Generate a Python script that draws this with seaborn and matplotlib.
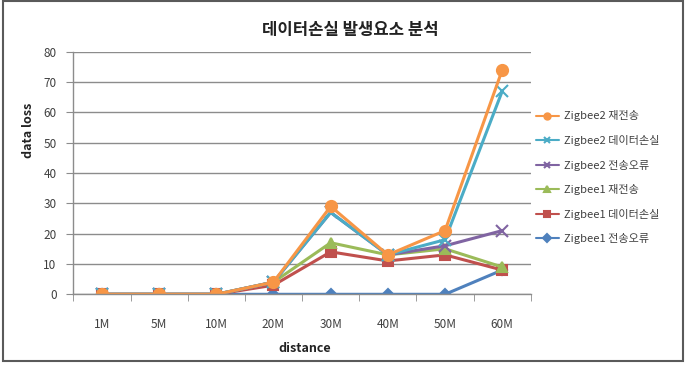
import matplotlib
matplotlib.use('Agg')
import matplotlib.pyplot as plt
import matplotlib.patches as patches
import seaborn as sns
import pandas as pd

# Data
distances = ['1M', '5M', '10M', '20M', '30M', '40M', '50M', '60M']
zb1_tx_error = [0, 0, 0, 0, 0, 0, 0, 8]
zb1_data_loss = [0, 0, 0, 3, 14, 11, 13, 8]
zb1_retx = [0, 0, 0, 4, 17, 13, 15, 9]
zb2_tx_error = [0, 0, 0, 4, 27, 13, 16, 21]
zb2_data_loss = [0, 0, 0, 4, 27, 13, 18, 67]
zb2_retx = [0, 0, 0, 4, 29, 13, 21, 74]

series_names = ['Zigbee1 전송오류', 'Zigbee1 데이터손실', 'Zigbee1 재전송',
                'Zigbee2 전송오류', 'Zigbee2 데이터손실', 'Zigbee2 재전송']
series_values = [zb1_tx_error, zb1_data_loss, zb1_retx,
                 zb2_tx_error, zb2_data_loss, zb2_retx]
colors = ['#4F81BD', '#C0504D', '#9BBB59', '#8064A2', '#4BACC6', '#F79646']
markers = ['D', 's', '^', 'x', 'x', 'o']
marker_sizes = [5, 7, 7, 8, 8, 8]

sns.set_style('white')
plt.rcParams['font.family'] = ['Noto Sans CJK KR', 'DejaVu Sans']

fig = plt.figure(figsize=(6.93, 3.66), dpi=100)
ax = fig.add_axes([0.1058, 0.1959, 0.6602, 0.6628])

for name, vals, c, m, ms in zip(series_names, series_values, colors, markers, marker_sizes):
    df = pd.DataFrame({'distance': distances, 'loss': vals})
    sns.lineplot(data=df, x='distance', y='loss', ax=ax, color=c, marker=m,
                 markersize=ms, linewidth=2.2, markeredgecolor=c,
                 markeredgewidth=1.5, label=name, sort=False)

ax.set_xlim(-0.5, len(distances) - 0.5)
ax.set_ylim(0, 80)
ax.set_yticks(range(0, 81, 10))
ax.yaxis.grid(True, color='#8c8c8c', linewidth=1)
ax.set_axisbelow(True)

# Excel style ticks: between categories on x, outward on y
ax.set_xticks(range(len(distances)))
ax.set_xticklabels(distances)
ax.set_xticks([i - 0.5 for i in range(len(distances) + 1)], minor=True)
ax.tick_params(axis='x', which='major', length=0, pad=17, labelsize=8.5, labelcolor='#404040')
ax.tick_params(axis='x', which='minor', length=5, color='#8c8c8c', direction='out', bottom=True)
ax.tick_params(axis='y', length=5, color='#8c8c8c', direction='out', left=True,
               labelsize=8.5, labelcolor='#404040', pad=7)

for side in ['top', 'right']:
    ax.spines[side].set_visible(False)
for side in ['left', 'bottom']:
    ax.spines[side].set_color('#8c8c8c')
    ax.spines[side].set_linewidth(1)

fig.text(350 / 693, 1 - 30 / 366, '데이터손실 발생요소 분석', fontsize=12, fontweight='bold',
         color='#222222', ha='center', va='center')
ax.set_xlabel('distance', fontsize=9, fontweight='bold', color='#222222')
ax.set_ylabel('data loss', fontsize=9, fontweight='bold', color='#222222')
ax.xaxis.set_label_coords(0.506, -0.195)
ax.yaxis.set_label_coords(-0.084, 0.677)

# Legend in reversed order like the original
handles, labels = ax.get_legend_handles_labels()
leg = ax.legend(handles[::-1], labels[::-1], loc='upper left', bbox_to_anchor=(0.995, 0.79),
                frameon=False, fontsize=8, handlelength=2.0, labelspacing=1.22,
                handletextpad=0.5, borderaxespad=0.3)
for t in leg.get_texts():
    t.set_color('#404040')
for line in leg.get_lines():
    line.set_linewidth(1.5)
    line.set_markersize(4.5)

# Outer chart border
fig.patches.append(patches.Rectangle((3 / 693, 5 / 366), 680 / 693, 360 / 366,
                                     transform=fig.transFigure, fill=False,
                                     edgecolor='#5a5a5a', linewidth=1.5))

fig.savefig('out.png', dpi=100)
